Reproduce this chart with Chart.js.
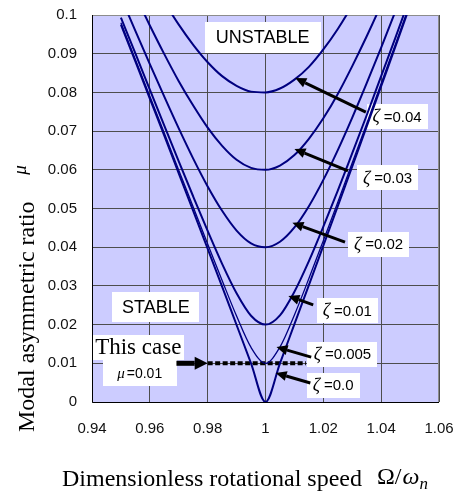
<!DOCTYPE html>
<html>
<head>
<meta charset="utf-8">
<script src="https://cdn.jsdelivr.net/npm/chart.js@4.4.1/dist/chart.umd.min.js"></script>
<style>
  html, body { margin: 0; padding: 0; background: #fff; }
</style>
</head>
<body>
<canvas id="chart" width="458" height="494"></canvas>
<script>
// rotational speed ratio Omega/omega_n
const omega = [0.95, 0.955, 0.96, 0.965, 0.97, 0.975, 0.98, 0.985, 0.99, 0.995, 1.0,
               1.005, 1.01, 1.015, 1.02, 1.025, 1.03, 1.035, 1.04, 1.045, 1.05]

// stability boundary mu for each damping ratio
const muZeta0   = [0.0975, 0.0880, 0.0784, 0.0688, 0.0591, 0.0494, 0.0396, 0.0298, 0.0199, 0.0100, 0.0,
                   0.0100, 0.0201, 0.0302, 0.0404, 0.0506, 0.0609, 0.0712, 0.0816, 0.0920, 0.1025]
const muZeta005 = [0.0980, 0.0885, 0.0790, 0.0695, 0.0599, 0.0504, 0.0408, 0.0314, 0.0222, 0.0141, 0.0100,
                   0.0142, 0.0225, 0.0319, 0.0417, 0.0516, 0.0618, 0.0719, 0.0823, 0.0926, 0.1030]
const muZeta01  = [0.0993, 0.0901, 0.0807, 0.0714, 0.0622, 0.0531, 0.0442, 0.0357, 0.0281, 0.0223, 0.0200,
                   0.0224, 0.0285, 0.0364, 0.0453, 0.0546, 0.0643, 0.0741, 0.0842, 0.0943, 0.1046]
const muZeta02  = [0.1046, 0.0959, 0.0873, 0.0789, 0.0707, 0.0629, 0.0557, 0.0494, 0.0443, 0.0410, 0.0400,
                   0.0414, 0.0451, 0.0506, 0.0574, 0.0651, 0.0735, 0.0824, 0.0916, 0.1011, 0.1108]
const muZeta03  = [0.1129, 0.1050, 0.0973, 0.0899, 0.0829, 0.0766, 0.0709, 0.0662, 0.0626, 0.0605, 0.0600,
                   0.0611, 0.0638, 0.0680, 0.0733, 0.0796, 0.0868, 0.0945, 0.1027, 0.1113, 0.1203]
const muZeta04  = [0.1236, 0.1165, 0.1097, 0.1034, 0.0975, 0.0923, 0.0878, 0.0842, 0.0817, 0.0802, 0.0800,
                   0.0810, 0.0833, 0.0866, 0.0911, 0.0964, 0.1025, 0.1092, 0.1165, 0.1243, 0.1325]

// "this case" line at mu = 0.01
const caseMu = 0.01
const caseOmega = [0.98, 1.014]

const xTicks = [0.94, 0.96, 0.98, 1, 1.02, 1.04, 1.06]
const xTickLabels = ['0.94', '0.96', '0.98', '1', '1.02', '1.04', '1.06']
const yTicks = [0, 0.01, 0.02, 0.03, 0.04, 0.05, 0.06, 0.07, 0.08, 0.09, 0.1]
const yTickLabels = ['0', '0.01', '0.02', '0.03', '0.04', '0.05', '0.06', '0.07', '0.08', '0.09', '0.1']

// callouts: box centre, arrow tail and arrow tip in data units
const zetaNotes = [
  { label: '0.04',  at: [1.0455, 0.0738], from: [1.0347, 0.0749], to: [1.0103, 0.0837] },
  { label: '0.03',  at: [1.0422, 0.0579], from: [1.0285, 0.0597], to: [1.0100, 0.0654] },
  { label: '0.02',  at: [1.0391, 0.0408], from: [1.0275, 0.0413], to: [1.0093, 0.0463] },
  { label: '0.01',  at: [1.0283, 0.0236], from: [1.0165, 0.0251], to: [1.0079, 0.0274] },
  { label: '0.005', at: [1.0266, 0.0124], from: [1.0158, 0.0116], to: [1.0038, 0.0142] },
  { label: '0.0',   at: [1.0234, 0.0043], from: [1.0155, 0.0049], to: [1.0035, 0.0075] },
]

const NAVY = '#000080'
const SANS = '"Liberation Sans", Arial, sans-serif'
const SERIF = '"Liberation Serif", "Times New Roman", serif'

function curve(values, width) {
  return {
    data: omega.map((o, i) => ({ x: o, y: values[i] })),
    borderColor: NAVY,
    borderWidth: width || 2,
    pointRadius: 0,
    fill: false,
    cubicInterpolationMode: 'monotone',
  }
}

function arrow(ctx, x1, y1, x2, y2, w, hl, hw) {
  const a = Math.atan2(y2 - y1, x2 - x1)
  const bx = x2 - hl * Math.cos(a)
  const by = y2 - hl * Math.sin(a)
  ctx.lineWidth = w
  ctx.beginPath()
  ctx.moveTo(x1, y1)
  ctx.lineTo(bx, by)
  ctx.stroke()
  ctx.beginPath()
  ctx.moveTo(x2, y2)
  ctx.lineTo(bx + (hw / 2) * Math.sin(a), by - (hw / 2) * Math.cos(a))
  ctx.lineTo(bx - (hw / 2) * Math.sin(a), by + (hw / 2) * Math.cos(a))
  ctx.closePath()
  ctx.fill()
}

function whiteBox(ctx, cx, cy, w, h) {
  ctx.fillStyle = '#fff'
  ctx.fillRect(Math.round(cx - w / 2), Math.round(cy - h / 2), w, h)
}

const decor = {
  id: 'decor',
  beforeDraw(chart) {
    const { ctx, chartArea: a } = chart
    ctx.save()
    ctx.fillStyle = '#ccccff'
    ctx.fillRect(a.left, a.top, a.right - a.left, a.bottom - a.top)
    ctx.restore()
  },
  beforeDatasetsDraw(chart) {
    const { ctx, chartArea: a, scales } = chart
    const X = v => scales.x.getPixelForValue(v)
    const Y = v => scales.y.getPixelForValue(v)
    ctx.save()
    // frame
    ctx.strokeStyle = '#8c8c8c'
    ctx.lineWidth = 1
    ctx.strokeRect(a.left + 0.5, a.top + 0.5, a.right - a.left - 1, a.bottom - a.top)
    ctx.strokeStyle = '#000'
    ctx.beginPath()
    ctx.moveTo(a.left + 0.5, a.top)
    ctx.lineTo(a.left + 0.5, a.bottom + 0.5)
    ctx.lineTo(a.right, a.bottom + 0.5)
    ctx.stroke()

    // region labels
    ctx.textAlign = 'center'
    ctx.textBaseline = 'middle'
    whiteBox(ctx, X(0.999), Y(0.0942), 116, 31)
    ctx.fillStyle = '#000'
    ctx.font = '18px ' + SANS
    ctx.fillText('UNSTABLE', X(0.999), Y(0.0942) + 1)
    whiteBox(ctx, X(0.9621), Y(0.02455), 87, 30)
    ctx.fillStyle = '#000'
    ctx.fillText('STABLE', X(0.9621), Y(0.02455) + 1)

    // this case
    whiteBox(ctx, X(0.956), Y(0.0141), 91, 25)
    whiteBox(ctx, X(0.9565), Y(0.0075), 74, 27)
    ctx.fillStyle = '#000'
    ctx.font = '23px ' + SERIF
    ctx.fillText('This case', X(0.956), Y(0.0141) + 1)
    ctx.textAlign = 'left'
    ctx.font = 'italic 15px ' + SERIF
    const muW = ctx.measureText('\u03bc').width
    ctx.font = '14px ' + SANS
    const valW = ctx.measureText('=0.01').width
    let sx = X(0.9565) - (muW + 2 + valW) / 2
    ctx.font = 'italic 15px ' + SERIF
    ctx.fillText('\u03bc', sx, Y(0.0075) + 1)
    ctx.font = '14px ' + SANS
    ctx.fillText('=0.01', sx + muW + 2, Y(0.0075) + 1)

    // zeta labels
    zetaNotes.forEach(n => {
      ctx.font = 'italic 18px ' + SERIF
      const zw = ctx.measureText('\u03b6').width
      ctx.font = '15px ' + SANS
      const tw = ctx.measureText('=' + n.label).width
      const w = Math.round(zw + 4 + tw + 12)
      const cx = X(n.at[0]), cy = Y(n.at[1])
      whiteBox(ctx, cx, cy, w, 25)
      ctx.fillStyle = '#000'
      const x0 = cx - (zw + 4 + tw) / 2
      ctx.font = 'italic 18px ' + SERIF
      ctx.fillText('\u03b6', x0, cy + 1)
      ctx.font = '15px ' + SANS
      ctx.fillText('=' + n.label, x0 + zw + 4, cy + 1)
    })
    ctx.restore()
  },
  afterDatasetsDraw(chart) {
    const { ctx, scales } = chart
    const X = v => scales.x.getPixelForValue(v)
    const Y = v => scales.y.getPixelForValue(v)
    ctx.save()
    ctx.strokeStyle = '#000'
    ctx.fillStyle = '#000'
    zetaNotes.forEach(n => {
      arrow(ctx, X(n.from[0]), Y(n.from[1]), X(n.to[0]), Y(n.to[1]), 3, 11, 10)
    })
    arrow(ctx, X(0.9692), Y(caseMu), X(caseOmega[0]), Y(caseMu), 5, 13, 13)
    ctx.restore()
  },
  afterDraw(chart) {
    const { ctx } = chart
    ctx.save()
    ctx.fillStyle = '#000'
    ctx.textBaseline = 'alphabetic'
    ctx.textAlign = 'left'
    // x title
    ctx.font = '24px ' + SERIF
    ctx.fillText('Dimensionless rotational speed', 62, 486)
    ctx.fillText('\u03a9/', 377, 484)
    const ow = ctx.measureText('\u03a9/').width
    ctx.font = 'italic 24px ' + SERIF
    ctx.fillText('\u03c9', 377 + ow + 1, 484)
    const ww = ctx.measureText('\u03c9').width
    ctx.font = 'italic 17px ' + SERIF
    ctx.fillText('n', 377 + ow + ww + 1, 489)
    // y title
    ctx.translate(34, 432)
    ctx.rotate(-Math.PI / 2)
    ctx.font = '24px ' + SERIF
    ctx.fillText('Modal asymmetric ratio', 0, 0)
    ctx.font = 'italic 19px ' + SERIF
    ctx.textAlign = 'center'
    ctx.fillText('\u03bc', 432 - 170, -8)
    ctx.restore()
  },
}

new Chart(document.getElementById('chart').getContext('2d'), {
  type: 'line',
  data: {
    datasets: [
      curve(muZeta0),
      curve(muZeta005, 1.3),
      curve(muZeta01),
      curve(muZeta02),
      curve(muZeta03),
      curve(muZeta04),
      {
        data: caseOmega.map(o => ({ x: o, y: caseMu })),
        borderColor: '#000',
        borderWidth: 4,
        borderDash: [5, 2.5],
        borderCapStyle: 'butt',
        pointRadius: 0,
        fill: false,
      },
    ],
  },
  options: {
    responsive: false,
    animation: false,
    devicePixelRatio: 1,
    layout: { padding: { top: 15, right: 19, left: 0, bottom: 0 } },
    plugins: { legend: { display: false }, tooltip: { enabled: false } },
    scales: {
      x: {
        type: 'linear',
        min: 0.94,
        max: 1.06,
        afterBuildTicks: s => { s.ticks = xTicks.map(v => ({ value: v })) },
        afterFit: s => { s.height = 92; s.paddingLeft = 0; s.paddingRight = 0 },
        ticks: {
          callback: (v, i) => xTickLabels[i],
          font: { family: SANS, size: 15 },
          color: '#111',
          padding: 18,
          maxRotation: 0,
          autoSkip: false,
        },
        grid: { color: '#4d4d4d', lineWidth: 1, drawTicks: false },
        border: { display: false },
      },
      y: {
        type: 'linear',
        min: 0,
        max: 0.1,
        afterBuildTicks: s => { s.ticks = yTicks.map(v => ({ value: v })) },
        afterFit: s => { s.width = 92; s.paddingTop = 0; s.paddingBottom = 0 },
        ticks: {
          callback: (v, i) => yTickLabels[i],
          font: { family: SANS, size: 15 },
          color: '#111',
          padding: 15,
          autoSkip: false,
        },
        grid: { color: '#4d4d4d', lineWidth: 1, drawTicks: false },
        border: { display: false },
      },
    },
  },
  plugins: [decor],
})
</script>
</body>
</html>
